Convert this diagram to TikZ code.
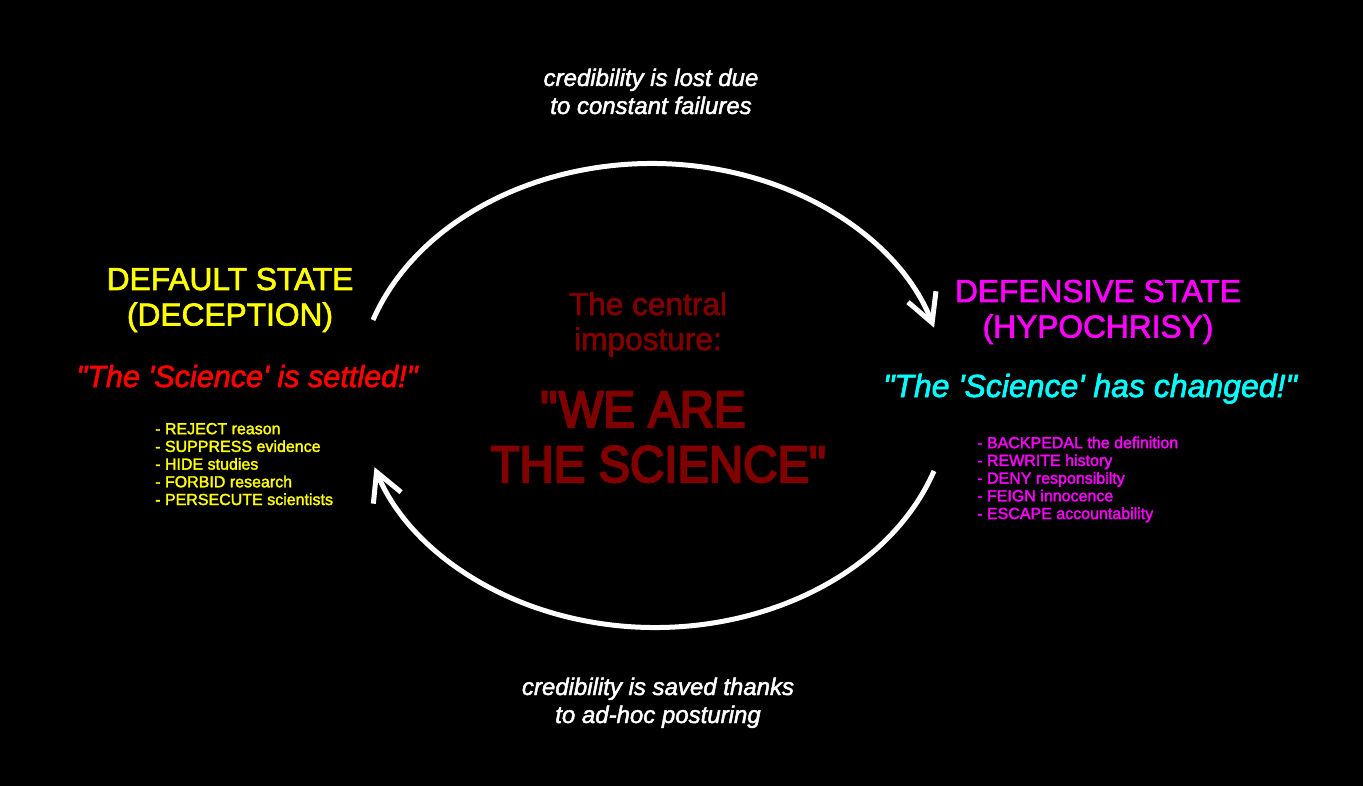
\documentclass[tikz,border=0pt]{standalone}
\usepackage{fontspec}
\setmainfont{Liberation Sans}[FakeBold=2]
\newfontfamily\bigfont{Liberation Sans}[FakeStretch=0.92, FakeBold=4]
\usetikzlibrary{arrows.meta}
\definecolor{impred}{HTML}{800000}
\definecolor{myyellow}{HTML}{FFFF00}
\definecolor{mymagenta}{HTML}{FF00FF}
\definecolor{mycyan}{HTML}{00FFFF}
\definecolor{myred}{HTML}{FF0000}
\tikzset{
  statetitle/.style={align=center, anchor=base, inner sep=0pt, font=\fontsize{31.7pt}{35.5pt}\selectfont},
  slogan/.style={anchor=base, inner sep=0pt},
  actions/.style={align=left, anchor=base west, inner sep=0pt, font=\fontsize{16pt}{17.7pt}\selectfont},
  caption/.style={align=center, anchor=base, inner sep=0pt, white, font=\fontsize{24pt}{28pt}\selectfont\itshape},
  cycle/.style={white, line width=5pt, line cap=butt, -{Straight Barb[length=28pt,width=30pt]}}
}
\begin{document}
\begin{tikzpicture}[x=1pt,y=-1pt]
\fill[black] (0,0) rectangle (1363,786);
\useasboundingbox (0,0) rectangle (1363,786);

% captions (anchor = baseline of last line)
\node[caption] (lost) at (651,114) {credibility is lost due\\to constant failures};
\node[caption] (saved) at (658,723) {credibility is saved thanks\\to ad-hoc posturing};

% default state
\node[statetitle, myyellow] (default) at (230,325.5) {DEFAULT STATE\\(DECEPTION)};
\node[slogan, myred, font=\fontsize{30.6pt}{35pt}\selectfont\itshape] (settled) at (247,387) {\textquotedbl The \textquotesingle Science\textquotesingle\ is settled!\textquotedbl};
\node[actions, myyellow] (deflist) at (155,505) {- REJECT reason\\- SUPPRESS evidence\\- HIDE studies\\- FORBID research\\- PERSECUTE scientists};

% defensive state
\node[statetitle, mymagenta] (defensive) at (1098,337.5) {DEFENSIVE STATE\\(HYPOCHRISY)};
\node[slogan, mycyan, font=\fontsize{32pt}{36pt}\selectfont\itshape] (changed) at (1090,397) {\textquotedbl The \textquotesingle Science\textquotesingle\ has changed!\textquotedbl};
\node[actions, mymagenta] (dfslist) at (977,519) {- BACKPEDAL the definition\\- REWRITE history\\- DENY responsibilty\\- FEIGN innocence\\- ESCAPE accountability};

% center
\node[align=center, anchor=base, inner sep=0pt, impred, font=\fontsize{31.6pt}{35pt}\selectfont] (imp) at (648,350) {The central\\imposture:};
\node[align=center, anchor=base, inner sep=0pt, impred, font=\bigfont\fontsize{51.5pt}{55pt}\selectfont] (we) at (659,482) {\textquotedbl WE ARE\hspace*{32pt}\\THE SCIENCE\textquotedbl};

% cycle arcs
\coordinate (topstart) at (373,320);
\coordinate (botstart) at (934,471);
\draw[cycle] (topstart) arc[start angle=161, end angle=17, x radius=295pt, y radius=232pt];
\draw[cycle] (botstart) arc[start angle=-19, end angle=-162, x radius=295pt, y radius=232pt];
\end{tikzpicture}
\end{document}
